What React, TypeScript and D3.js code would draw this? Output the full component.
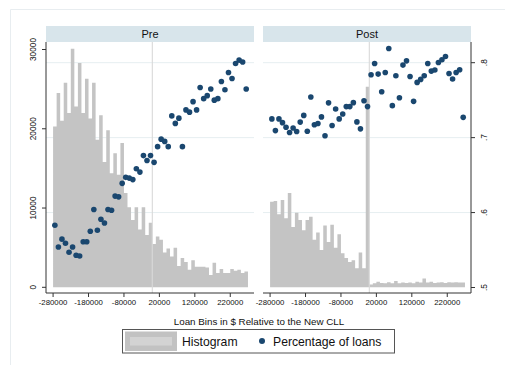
import React from 'react';
import * as d3 from 'd3';

// Histogram counts per $10,000 bin (bin starts at -280000)
const preCounts = [
  20300, 24500, 21000, 25800, 22000, 30100, 22800, 28300, 22000, 26300,
  21300, 25800, 18600, 21700, 15800, 19800, 14400, 16900, 14200, 18200,
  11900, 10100, 8500, 10100, 7300, 10100, 6600, 8150, 5450, 6400,
  6000, 4400, 4900, 3900, 5000, 2700, 3700, 3200, 2200, 3400,
  2600, 2600, 2600, 2500, 1550, 3100, 1800, 2300, 1800, 1800,
  2300, 2100, 2200, 1800, 2000,
];
const postCounts = [
  10800, 10900, 9200, 11000, 8700, 11900, 7600, 9400, 8500, 7200,
  8500, 8900, 6000, 6900, 4700, 7800, 5700, 7900, 5000, 6700,
  4300, 3700, 3200, 3400, 2400, 4400, 2400, 25300, 350, 500,
  700, 550, 500, 650, 500, 800, 500, 600, 550, 600,
  500, 700, 600, 1100, 600, 700, 550, 600, 650, 550,
  650, 600, 650, 600, 600,
];
// Percentage of loans per bin (right axis)
const preShare = [
  0.583, 0.554, 0.5645, 0.559, 0.547, 0.554, 0.543, 0.542, 0.561, 0.561,
  0.575, 0.604, 0.5765, 0.591, 0.586, 0.604, 0.603, 0.622, 0.621, 0.639,
  0.647, 0.646, 0.644, 0.6585, 0.654, 0.676, 0.6695, 0.676, 0.667, 0.688,
  0.698, 0.695, 0.688, 0.729, 0.719, 0.726, 0.688, 0.737, 0.734, 0.748,
  0.737, 0.767, 0.752, 0.756, 0.765, 0.75, 0.752, 0.775, 0.764, 0.787,
  0.779, 0.799, 0.8035, 0.801, 0.765,
];
const postShare = [
  0.725, 0.7094, 0.725, 0.72, 0.7138, 0.7068, 0.7128, 0.7081, 0.7207, 0.7297,
  0.7085, 0.7543, 0.7172, 0.7188, 0.7277, 0.7025, 0.7464, 0.7161, 0.7383, 0.725,
  0.7316, 0.7414, 0.7414, 0.7467, 0.721, 0.7117, 0.7493, 0.7414, 0.7839, 0.7989,
  0.7848, 0.7613, 0.787, 0.8189, 0.7427, 0.7826, 0.7533, 0.7968, 0.8025, 0.7816,
  0.7484, 0.7737, 0.7777, 0.7826, 0.7989, 0.7888, 0.7902, 0.8003, 0.8039, 0.8082,
  0.7856, 0.7782, 0.787, 0.7906, 0.7271,
];

const firstBin = -280000;
const binWidth = 10000;
const xTicks = [-280000, -180000, -80000, 20000, 120000, 220000];
const countTicks = [0, 10000, 20000, 30000];
const shareTicks = [0.5, 0.6, 0.7, 0.8];
const shareTickLabels = ['.5', '.6', '.7', '.8'];
const panelNames = ['Pre', 'Post'];
const cutoff = 0;

const FONT = "'Liberation Sans', Arial, Helvetica, sans-serif";
const BAR = '#c4c4c4';
const DOT = '#1a476f';
const GRID = '#e6eef1';
const STRIP = '#d8e5eb';
const AXIS = '#333333';

const plotTop = 42;
const axisY = 293;
const panelRanges: [number, number][] = [
  [46, 254],
  [263, 471],
];

type Bin = { start: number; count: number; share: number };

// One closed outline for the adjacent histogram bars, so no seams show between them
function histogramPath(
  bins: Bin[],
  x: d3.ScaleLinear<number, number>,
  y: d3.ScaleLinear<number, number>
) {
  const p = d3.path();
  const base = y(0);
  p.moveTo(x(bins[0].start), base);
  bins.forEach((b) => {
    p.lineTo(x(b.start), y(b.count));
    p.lineTo(x(b.start + binWidth), y(b.count));
  });
  p.lineTo(x(bins[bins.length - 1].start + binWidth), base);
  p.closePath();
  return p.toString();
}

export default function App() {
  const yCount = d3.scaleLinear().domain([0, 30000]).range([287.3, 49.5]);
  const yShare = d3.scaleLinear().domain([0.5, 0.8]).range([287.5, 62.7]);

  const panels = [
    { name: panelNames[0], counts: preCounts, share: preShare, range: panelRanges[0] },
    { name: panelNames[1], counts: postCounts, share: postShare, range: panelRanges[1] },
  ];

  return (
    <svg
      width={505}
      height={365}
      style={{ position: 'absolute', left: 0, top: 0, background: '#fff' }}
      fontFamily={FONT}
    >
      <rect x={0} y={0} width={505} height={365} fill="#ffffff" />
      {/* faint outer graph region border */}
      <line x1={10.5} y1={9.5} x2={505} y2={9.5} stroke="#e8edf0" strokeWidth={1} />
      <line x1={10.5} y1={9.5} x2={10.5} y2={365} stroke="#e8edf0" strokeWidth={1} />

      {panels.map((p, pi) => {
        const x = d3.scaleLinear().domain([-300000, 287000]).range(p.range);
        const [x0, x1] = p.range;
        const bins: Bin[] = p.counts.map((c, i) => ({
          start: firstBin + i * binWidth,
          count: c,
          share: p.share[i],
        }));
        return (
          <g key={p.name}>
            {/* strip header */}
            <rect x={x0} y={26} width={x1 - x0} height={plotTop - 26} fill={STRIP} />
            <text
              x={(x0 + x1) / 2}
              y={37.6}
              textAnchor="middle"
              fontSize={11}
              fill="#111"
            >
              {p.name}
            </text>

            {/* gridlines from the share axis */}
            {shareTicks.slice(1).map((t) => (
              <line
                key={t}
                x1={x0}
                x2={x1}
                y1={yShare(t)}
                y2={yShare(t)}
                stroke={GRID}
                strokeWidth={1}
              />
            ))}

            {/* histogram */}
            <path d={histogramPath(bins, x, yCount)} fill={BAR} stroke="none" />

            {/* threshold line */}
            <line
              x1={x(cutoff)}
              x2={x(cutoff)}
              y1={plotTop}
              y2={axisY}
              stroke="#d9d9d9"
              strokeWidth={1.1}
            />

            {/* scatter of shares */}
            {bins.map((b) => (
              <circle
                key={'d' + b.start}
                cx={x(b.start + binWidth / 2)}
                cy={yShare(b.share)}
                r={2.8}
                fill={DOT}
              />
            ))}

            {/* x axis */}
            <line x1={x0} x2={x1} y1={axisY} y2={axisY} stroke={AXIS} strokeWidth={1} />
            {xTicks.map((t) => (
              <g key={t}>
                <line
                  x1={x(t)}
                  x2={x(t)}
                  y1={axisY}
                  y2={axisY + 4}
                  stroke={AXIS}
                  strokeWidth={1}
                />
                <text x={x(t)} y={axisY + 11.5} textAnchor="middle" fontSize={7.8} fill="#111">
                  {t}
                </text>
              </g>
            ))}

            {pi === 0 && (
              <g>
                <line x1={x0} x2={x0} y1={plotTop} y2={axisY} stroke={AXIS} strokeWidth={1} />
                {countTicks.map((t) => (
                  <g key={t}>
                    <line
                      x1={x0 - 4}
                      x2={x0}
                      y1={yCount(t)}
                      y2={yCount(t)}
                      stroke={AXIS}
                      strokeWidth={1}
                    />
                    <text
                      transform={`translate(36.3,${yCount(t)}) rotate(-90)`}
                      textAnchor="middle"
                      fontSize={8.3}
                      fill="#111"
                    >
                      {t}
                    </text>
                  </g>
                ))}
              </g>
            )}
            {pi === 1 && (
              <g>
                <line x1={x1} x2={x1} y1={plotTop} y2={axisY} stroke={AXIS} strokeWidth={1} />
                {shareTicks.map((t, i) => (
                  <g key={t}>
                    <line
                      x1={x1}
                      x2={x1 + 4}
                      y1={yShare(t)}
                      y2={yShare(t)}
                      stroke={AXIS}
                      strokeWidth={1}
                    />
                    <text
                      transform={`translate(487,${yShare(t)}) rotate(-90)`}
                      textAnchor="middle"
                      fontSize={8.3}
                      fill="#111"
                    >
                      {shareTickLabels[i]}
                    </text>
                  </g>
                ))}
              </g>
            )}
          </g>
        );
      })}

      {/* axis title */}
      <text x={259} y={324.5} textAnchor="middle" fontSize={9.8} fill="#111">
        Loan Bins in $ Relative to the New CLL
      </text>

      {/* legend */}
      <rect x={122.5} y={329.5} width={272} height={23.5} fill="#fff" stroke="#555" strokeWidth={1} />
      <rect x={125} y={331.5} width={52} height={19.5} fill="#c2c2c2" />
      <rect x={130} y={337} width={42} height={8.5} fill="#d3d3d3" />
      <text x={182} y={345.5} fontSize={12.2} fill="#111">Histogram</text>
      <circle cx={262} cy={341} r={3} fill={DOT} />
      <text x={273} y={345.5} fontSize={12.2} fill="#111">Percentage of loans</text>
    </svg>
  );
}
